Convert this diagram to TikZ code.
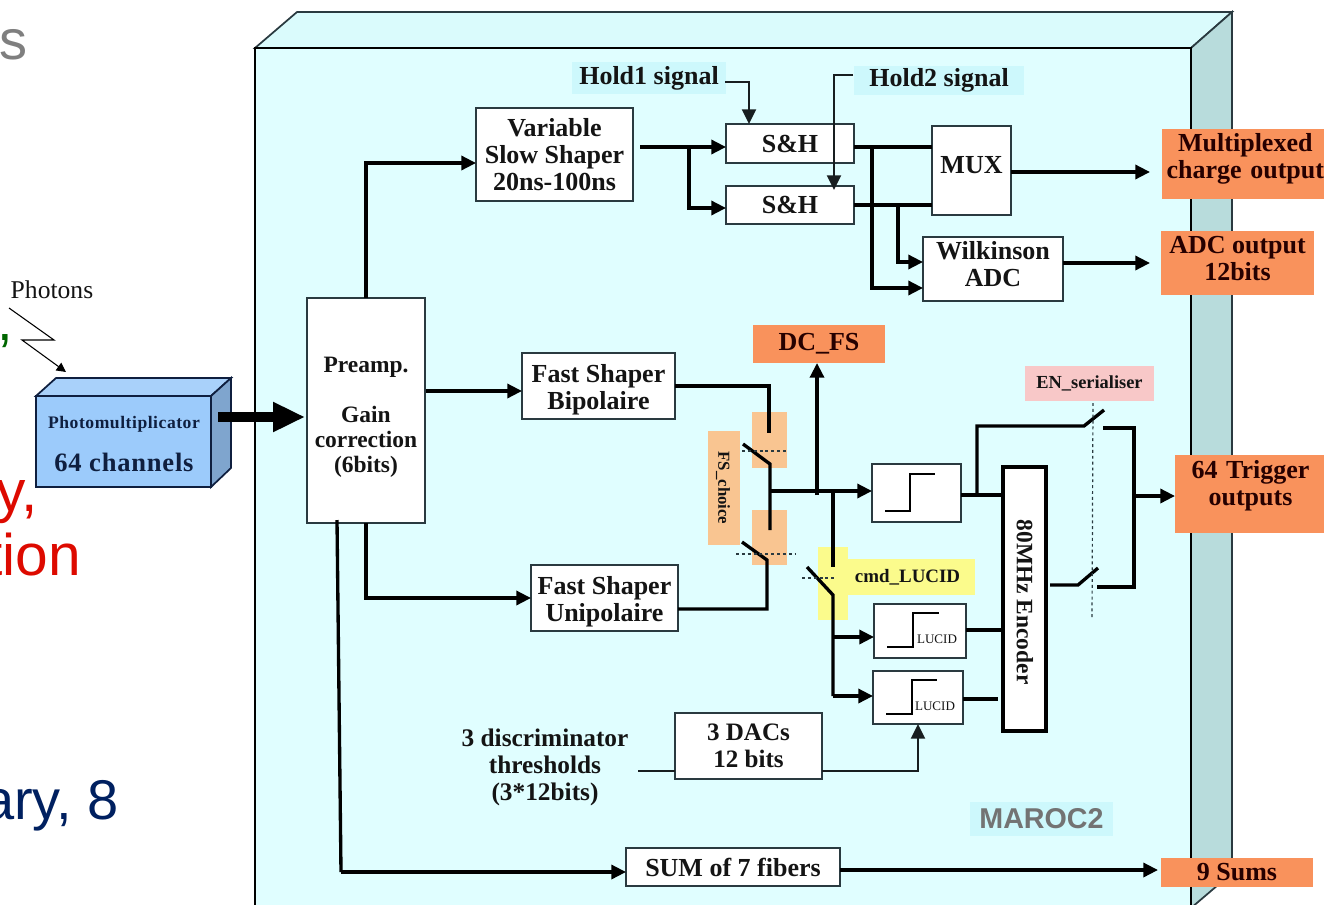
\documentclass[tikz,border=0pt]{standalone}
\usepackage{fontspec}
\setmainfont{Liberation Serif}
\setsansfont{Liberation Sans}
\newfontfamily\spaced[LetterSpace=3]{Liberation Serif}
\usetikzlibrary{arrows.meta}
\definecolor{panelf}{HTML}{E0FEFF}
\definecolor{panelt}{HTML}{DAFBFC}
\definecolor{panels}{HTML}{B8DCDC}
\definecolor{edgec}{HTML}{2A3A40}
\definecolor{thinc}{HTML}{181E20}
\definecolor{outc}{HTML}{F9925C}
\definecolor{patchc}{HTML}{F9C591}
\definecolor{pinkc}{HTML}{F8C8C8}
\definecolor{yellc}{HTML}{FBFB8C}
\definecolor{labc}{HTML}{CDF8FC}
\definecolor{inkc}{HTML}{141414}
\definecolor{navyc}{HTML}{0F1F3F}
\definecolor{pmtf}{HTML}{9CCBFB}
\definecolor{pmtt}{HTML}{A9D1FA}
\definecolor{pmts}{HTML}{7FA5CE}
\definecolor{redt}{HTML}{DD0A00}
\definecolor{bluet}{HTML}{002060}
\definecolor{grayt}{HTML}{7F7F7F}
\definecolor{greent}{HTML}{006600}
\tikzset{
  span/.style n args={4}{at={({(#1+#3)/2},{(#2+#4)/2})},minimum width={(#3-#1)*0.75pt},minimum height={(#4-#2)*0.75pt}},
  blk/.style={draw=edgec,fill=white,line width=1.6pt,inner sep=0pt,outer sep=0pt,align=center,text=inkc,tb},
  tb/.style={font=\fontsize{19.5}{20.25}\selectfont\bfseries},
  tbs/.style={font=\fontsize{17.6}{18.7}\selectfont\bfseries},
  outbox/.style={fill=outc,inner sep=0pt,outer sep=0pt,align=center,text=black!85!red,tb},
  labbox/.style={fill=labc,inner sep=0pt,outer sep=0pt,text=inkc,tb},
  patchbox/.style={fill=patchc,inner sep=0pt,outer sep=0pt},
  wire/.style={draw=black,line width=2.5pt,line join=miter},
  arr/.style={wire,-{Triangle[length=11pt,width=10.5pt]}},
  thinw/.style={draw=thinc,line width=1.6pt},
  thina/.style={thinw,-{Triangle[length=11pt,width=10.5pt]}},
  dots/.style={draw=edgec,line width=0.9pt,dash pattern=on 2.2pt off 2.2pt},
  stepc/.style={draw=black,line width=2pt},
  bigt/.style={inner sep=0pt,outer sep=0pt,anchor=base east,font=\fontsize{42}{44}\selectfont\sffamily},
}
\begin{document}
\begin{tikzpicture}[x=0.75pt,y=-0.75pt]
\useasboundingbox (0,0) rectangle (1324,904);
\clip (0,0) rectangle (1324,904);
% clipped slide text
\node[bigt,text=grayt] (tgray) at (27,59) {s};
\node[bigt,text=greent] (tgreen) at (13,340) {,};
\node[bigt,text=redt,font=\fontsize{44}{46}\selectfont\sffamily] (tred1) at (38,511) {y,};
\node[bigt,text=redt,font=\fontsize{44}{46}\selectfont\sffamily] (tred2) at (81,575) {tion};
\node[bigt,text=bluet] (tblue) at (119,819) {ary, 8};
% panel
\filldraw[fill=panelt,draw=edgec,line width=1.3pt] (255,48) -- (297,12) -- (1232,12) -- (1191,48) -- cycle;
\filldraw[fill=panels,draw=edgec,line width=1.3pt] (1191,48) -- (1232,12) -- (1232,873) -- (1191,908) -- cycle;
\filldraw[fill=panelf,draw=black,line width=1.3pt] (255,48) rectangle (1191,910);
% background labels and patches
\node[patchbox,span={752}{412}{787}{468}] (p1) {};
\node[patchbox,span={752}{510}{787}{565}] (p2) {};
\node[patchbox,span={708}{431}{740}{545}] (fschoice) {};
\node[font=\fontsize{12.6}{13}\selectfont\bfseries,rotate=-90,text=inkc,inner sep=0pt] (fstext) at (723,488) {FS\_choice};
\fill[yellc] (818,547) rectangle (848,620);
\node[fill=yellc,inner sep=0pt,span={818}{559}{975}{595},font=\fontsize{14.2}{15}\selectfont\bfseries,text=inkc,text width=115.5pt,align=right] (cmd) {cmd\_LUCID\hspace*{10pt}};
\node[fill=pinkc,inner sep=0pt,span={1025}{366}{1154}{401},font=\fontsize{13.8}{14}\selectfont\bfseries,text=inkc] (ens) {EN\_serialiser};
\node[labbox,span={572}{62}{726}{94}] (hold1) {Hold1 signal};
\node[labbox,span={854}{66}{1024}{95}] (hold2) {Hold2 signal};
\node[fill=labc,inner sep=0pt,span={970}{802}{1113}{836},font=\fontsize{21.5}{22}\selectfont\sffamily\bfseries,text=black!55] (maroc) {MAROC2};
% blocks
\node[blk,span={307}{298}{425}{523},tbs] (preamp) {\fontsize{17.6}{18.7}\selectfont \rule{0pt}{21.5pt}Preamp.\\[18.5pt]Gain\\correction\\(6bits)};
\node[blk,span={476}{108}{633}{201}] (var) {Variable\\Slow Shaper\\20ns-100ns};
\node[blk,span={726}{124}{854}{163}] (sh1) {S\&H};
\node[blk,span={726}{186}{854}{224}] (sh2) {S\&H};
\node[blk,span={932}{126}{1011}{215}] (mux) {\raisebox{8.5pt}{MUX}};
\node[blk,span={923}{237}{1063}{301}] (wilk) {Wilkinson\\ADC\rule[-8pt]{0pt}{1pt}};
\node[blk,span={522}{353}{675}{419}] (fsb) {\rule{0pt}{18.8pt}Fast Shaper\\Bipolaire};
\node[blk,span={531}{565}{678}{631}] (fsu) {\rule{0pt}{18.8pt}Fast Shaper\\Unipolaire};
\node[blk,span={872}{464}{961}{522}] (disc) {};
\node[blk,span={874}{604}{966}{658}] (luc1) {};
\node[blk,span={873}{671}{963}{724}] (luc2) {};
\node[blk,draw=black,line width=2.8pt,span={1003}{467}{1046}{731}] (enc) {};
\node[font=\fontsize{17.6}{18}\selectfont\bfseries,rotate=-90,text=inkc,inner sep=0pt] (enctext) at (1025,602) {80MHz Encoder};
\node[blk,span={675}{713}{822}{779},font=\fontsize{18.8}{20.25}\selectfont\bfseries] (dacs) {3 DACs\\12 bits};
\node[blk,span={626}{848}{840}{886}] (sum) {SUM of 7 fibers};
\node[inner sep=0pt,align=center,text=inkc,font=\fontsize{19}{20.25}\selectfont\bfseries] (thr) at (545,767) {3 discriminator\\thresholds\\(3*12bits)};
% outputs
\node[outbox,span={753}{325}{885}{363}] (dcfs) {DC\_FS};
\node[outbox,span={1162}{129}{1330}{199},text width=120pt] (omul) {\hspace*{-1pt}Multiplexed\\\hspace*{-1pt}charge output\rule[-12pt]{0pt}{1pt}};
\node[outbox,span={1161}{231}{1314}{295}] (oadc) {ADC output\\12bits\rule[-7.5pt]{0pt}{1pt}};
\node[outbox,span={1175}{455}{1330}{533},text width=112pt] (otrg) {\hspace*{-3pt}64 Trigger\\\hspace*{-3pt}outputs\rule[-16.4pt]{0pt}{1pt}};
\node[outbox,span={1161}{858}{1313}{887}] (osum) {9 Sums};
% junction and switch points
\coordinate (varo) at (640,147);
\coordinate (j1) at (689,147);
\coordinate (j2) at (689,208);
\coordinate (h1a) at (725,82);
\coordinate (h1b) at (749,82);
\coordinate (h2a) at (853,75);
\coordinate (h2b) at (834,75);
\coordinate (h2c) at (834,190);
\coordinate (s1) at (872,147);
\coordinate (s2) at (898,205);
\coordinate (s3) at (872,288);
\coordinate (s4) at (898,262);
\coordinate (muxo) at (1150,172);
\coordinate (wilko) at (1150,263);
\coordinate (pa) at (366,163);
\coordinate (pb) at (366,598);
\coordinate (pc) at (426,391);
\coordinate (pd) at (337,520);
\coordinate (pe) at (341,872);
\coordinate (fb1) at (769,386);
\coordinate (fb2) at (769,433);
\coordinate (sw1a) at (743,444);
\coordinate (sw1b) at (770,464);
\coordinate (swm) at (770,530);
\coordinate (sw2a) at (742,542);
\coordinate (sw2b) at (767,560);
\coordinate (fu1) at (767,609);
\coordinate (bus) at (770,491);
\coordinate (busdc) at (817,495);
\coordinate (bl0) at (833,491);
\coordinate (bl1) at (833,567);
\coordinate (sw3a) at (807,567);
\coordinate (sw3b) at (833,595);
\coordinate (bl2) at (833,637);
\coordinate (bl3) at (833,696);
\coordinate (do) at (961,495);
\coordinate (d1) at (977,495);
\coordinate (d2) at (977,426);
\coordinate (sw4a) at (1084,426);
\coordinate (sw4b) at (1104,410);
\coordinate (t1) at (1103,428);
\coordinate (t2) at (1134,428);
\coordinate (t3) at (1134,587);
\coordinate (t4) at (1097,587);
\coordinate (t5) at (1134,496);
\coordinate (sw5z) at (1050,585);
\coordinate (sw5a) at (1078,585);
\coordinate (sw5b) at (1098,568);
\coordinate (l1) at (966,630);
\coordinate (l2) at (963,699);
\coordinate (l2e) at (998,699);
\coordinate (thro) at (638,771);
\coordinate (daco) at (918,771);
\coordinate (sumo) at (840,870);
\coordinate (sumt) at (1158,870);
% connectors
\draw[arr] (varo) -- (sh1.west |- varo);
\draw[arr] (j1) -- (j2) -- (sh2.west |- j2);
\draw[thina] (h1a) -- (h1b) -- (h1b |- sh1.north);
\draw[thina] (h2a) -- (h2b) -- (h2c);
\draw[wire] (sh1.east |- s1) -- (mux.west |- s1);
\draw[wire] (sh2.east |- s2) -- (mux.west |- s2);
\draw[arr] (s1) -- (s3) -- (wilk.west |- s3);
\draw[arr] (s2) -- (s4) -- (wilk.west |- s4);
\draw[arr] (mux.east |- muxo) -- (muxo);
\draw[arr] (wilk.east |- wilko) -- (wilko);
\draw[arr] (pa |- preamp.north) -- (pa) -- (var.west |- pa);
\draw[arr] (pc) -- (fsb.west |- pc);
\draw[arr] (pb |- preamp.south) -- (pb) -- (fsu.west |- pb);
\draw[wire] (pd) -- (pe);
\draw[arr] (pe) -- (sum.west |- pe);
\draw[arr] (sumo) -- (sumt);
\draw[wire] (fsb.east |- fb1) -- (fb1) -- (fb2);
\draw[wire] (sw1a) -- (sw1b) -- (swm);
\draw[wire] (sw2a) -- (sw2b) -- (fu1) -- (fsu.east |- fu1);
\draw[arr] (bus) -- (disc.west |- bus);
\draw[arr] (busdc) -- (dcfs.south -| busdc);
\draw[wire] (bl0) -- (bl1);
\draw[wire] (sw3a) -- (sw3b) -- (bl3);
\draw[arr] (bl2) -- (luc1.west |- bl2);
\draw[arr] (bl3) -- (luc2.west |- bl3);
\draw[wire] (do) -- (enc.west |- do);
\draw[wire] (d1) -- (d2) -- (sw4a) -- (sw4b);
\draw[wire] (t1) -- (t2) -- (t3) -- (t4);
\draw[wire] (sw5z) -- (sw5a) -- (sw5b);
\draw[arr] (t5) -- (otrg.west |- t5);
\draw[wire] (l1) -- (enc.west |- l1);
\draw[wire] (l2) -- (l2e);
\draw[thinw] (thro) -- (dacs.west |- thro);
\draw[thina] (dacs.east |- daco) -- (daco) -- (daco |- luc2.south);
% control dotted lines
\coordinate (dt1a) at (742,451);
\coordinate (dt1b) at (788,451);
\coordinate (dt2a) at (736,554);
\coordinate (dt2b) at (795,554);
\coordinate (dt3a) at (802,578);
\coordinate (dt3b) at (837,578);
\coordinate (dt4a) at (1093,403);
\coordinate (dt4b) at (1092,620);
\draw[dots] (dt1a) -- (dt1b);
\draw[dots] (dt2a) -- (dt2b);
\draw[dots] (dt3a) -- (dt3b);
\draw[dots] (dt4a) -- (dt4b);
% discriminator step symbols
\coordinate (st1) at (885,511);
\coordinate (st2) at (910,511);
\coordinate (st3) at (910,474);
\coordinate (st4) at (935,474);
\draw[stepc] (st1) -- (st2) -- (st3) -- (st4);
\coordinate (st5) at (887,647);
\coordinate (st6) at (913,647);
\coordinate (st7) at (913,613);
\coordinate (st8) at (939,613);
\draw[stepc] (st5) -- (st6) -- (st7) -- (st8);
\coordinate (st9) at (886,714);
\coordinate (st10) at (912,714);
\coordinate (st11) at (912,680);
\coordinate (st12) at (937,680);
\draw[stepc] (st9) -- (st10) -- (st11) -- (st12);
\node[font=\fontsize{9.8}{10}\selectfont,text=inkc,inner sep=0pt] (lt1) at (937,639) {LUCID};
\node[font=\fontsize{9.8}{10}\selectfont,text=inkc,inner sep=0pt] (lt2) at (935,706) {LUCID};
% photomultiplier
\filldraw[fill=pmtt,draw=navyc,line width=1.3pt] (36,396) -- (56,378) -- (231,378) -- (211,396) -- cycle;
\filldraw[fill=pmts,draw=navyc,line width=1.3pt] (211,396) -- (231,378) -- (231,468) -- (211,487) -- cycle;
\node[draw=navyc,line width=1.6pt,fill=pmtf,inner sep=0pt,outer sep=0pt,span={36}{396}{211}{487}] (pmt) {};
\node[text=navyc,inner sep=0pt,font=\fontsize{13.2}{14}\selectfont\spaced\bfseries] (pmt1) at (124,424) {Photomultiplicator};
\node[text=navyc,inner sep=0pt,font=\fontsize{19.9}{20}\selectfont\spaced\bfseries] (pmt2) at (124,462) {64 channels};
\node[inner sep=0pt,text=inkc,font=\fontsize{19.2}{20}\selectfont] (phot) at (52,290) {Photons};
\coordinate (ph0) at (9,308);
\coordinate (ph1) at (54,340);
\coordinate (ph2) at (22,340);
\coordinate (ph3) at (66,372);
\draw[draw=black,line width=0.8pt,-{Triangle[length=7pt,width=7pt]}] (ph0) -- (ph1) -- (ph2) -- (ph3);
\coordinate (big0) at (218,417);
\coordinate (big1) at (305,417);
\draw[draw=black,line width=6.8pt,-{Triangle[length=24pt,width=21pt]}] (big0) -- (big1);
\end{tikzpicture}
\end{document}
